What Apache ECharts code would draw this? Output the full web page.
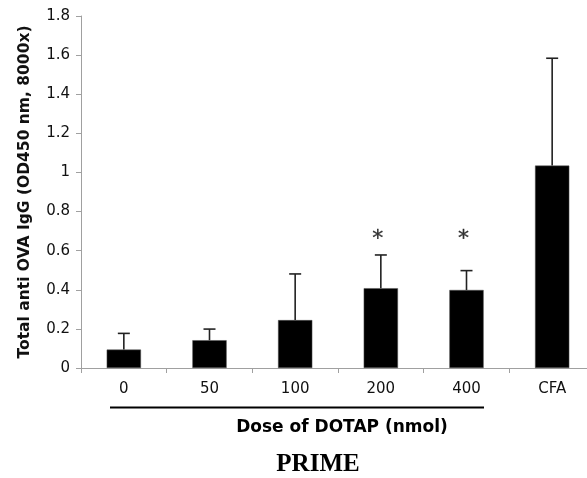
<!DOCTYPE html>
<html>
<head>
<meta charset="utf-8">
<script src="https://cdn.jsdelivr.net/npm/echarts@6/dist/echarts.min.js"></script>
<style>
html,body{margin:0;padding:0;background:#fff;overflow:hidden;}
#chart{width:600px;height:478px;}
</style>
</head>
<body>
<div id="chart"></div>
<script>
const categories = ['0', '50', '100', '200', '400', 'CFA'];
const means = [0.094, 0.142, 0.245, 0.408, 0.399, 1.035];
const errors = [0.083, 0.057, 0.236, 0.170, 0.099, 0.549];
const significance = ['', '', '', '*', '*', ''];
const sigLevel = 0.68;
const yTicks = { min: 0, max: 1.8, interval: 0.2 };
const yTitle = 'Total anti OVA IgG (OD450 nm, 8000x)';
const groupTitle = 'Dose of DOTAP (nmol)';
const bottomTitle = 'PRIME';

const chart = echarts.init(document.getElementById('chart'), null, {renderer: 'canvas'});

const errData = means.map((m, i) => [i, m, m + errors[i]]);
const sigData = significance.map((s, i) => s ? [i, sigLevel, s] : null).filter(Boolean);

chart.setOption({
  animation: false,
  backgroundColor: '#fff',
  grid: { left: 81, top: 16, height: 352, width: 514 },
  xAxis: {
    type: 'category',
    data: categories,
    axisLine: { lineStyle: { color: '#a0a0a0', width: 1 } },
    axisTick: { show: true, length: 5, lineStyle: { color: '#a0a0a0' } },
    axisLabel: { color: '#111', fontFamily: 'DejaVu Sans', fontSize: 15, margin: 14 }
  },
  yAxis: {
    type: 'value',
    min: yTicks.min, max: yTicks.max, interval: yTicks.interval,
    name: yTitle,
    nameLocation: 'middle',
    nameGap: 48,
    nameRotate: 90,
    nameTextStyle: { fontFamily: 'DejaVu Sans', fontWeight: 'bold', fontSize: 15.5, color: '#111' },
    axisLine: { show: true, lineStyle: { color: '#a0a0a0', width: 1 } },
    axisTick: { show: true, length: 5, lineStyle: { color: '#a0a0a0' } },
    splitLine: { show: false },
    axisLabel: { color: '#111', fontFamily: 'DejaVu Sans', fontSize: 15, margin: 11 }
  },
  series: [
    {
      type: 'bar',
      data: means,
      barWidth: '40%',
      itemStyle: { color: '#000', borderColor: '#555', borderWidth: 0.5 },
      z: 2
    },
    {
      type: 'custom',
      data: errData,
      z: 3,
      renderItem: function (params, api) {
        const x = api.value(0);
        const lo = api.coord([x, api.value(1)]);
        const hi = api.coord([x, api.value(2)]);
        const half = 6;
        const style = { stroke: '#222', lineWidth: 1.6 };
        return {
          type: 'group',
          children: [
            { type: 'line', shape: { x1: lo[0], y1: lo[1], x2: hi[0], y2: hi[1] }, style: style },
            { type: 'line', shape: { x1: hi[0] - half, y1: hi[1], x2: hi[0] + half, y2: hi[1] }, style: style }
          ]
        };
      }
    },
    {
      type: 'scatter',
      data: sigData,
      symbolSize: 0,
      label: {
        show: true,
        position: 'inside',
        formatter: p => p.data[2],
        fontFamily: 'DejaVu Sans',
        fontSize: 22,
        color: '#000',
        textBorderColor: '#000',
        textBorderWidth: 0.3,
        offset: [-3, 4]
      },
      z: 4
    }
  ],
  graphic: [
    { type: 'line', shape: { x1: 110, y1: 407.5, x2: 484, y2: 407.5 }, style: { stroke: '#000', lineWidth: 1.8 } },
    { type: 'text', x: 342, y: 428, style: { text: groupTitle, fontFamily: 'DejaVu Sans', fontWeight: 'bold', fontSize: 17, fill: '#000', textAlign: 'center', textVerticalAlign: 'middle' } },
    { type: 'text', x: 318, y: 465, style: { text: bottomTitle, fontFamily: 'Liberation Serif', fontWeight: 'bold', fontSize: 25, fill: '#000', textAlign: 'center', textVerticalAlign: 'middle' } }
  ]
});
</script>
</body>
</html>
